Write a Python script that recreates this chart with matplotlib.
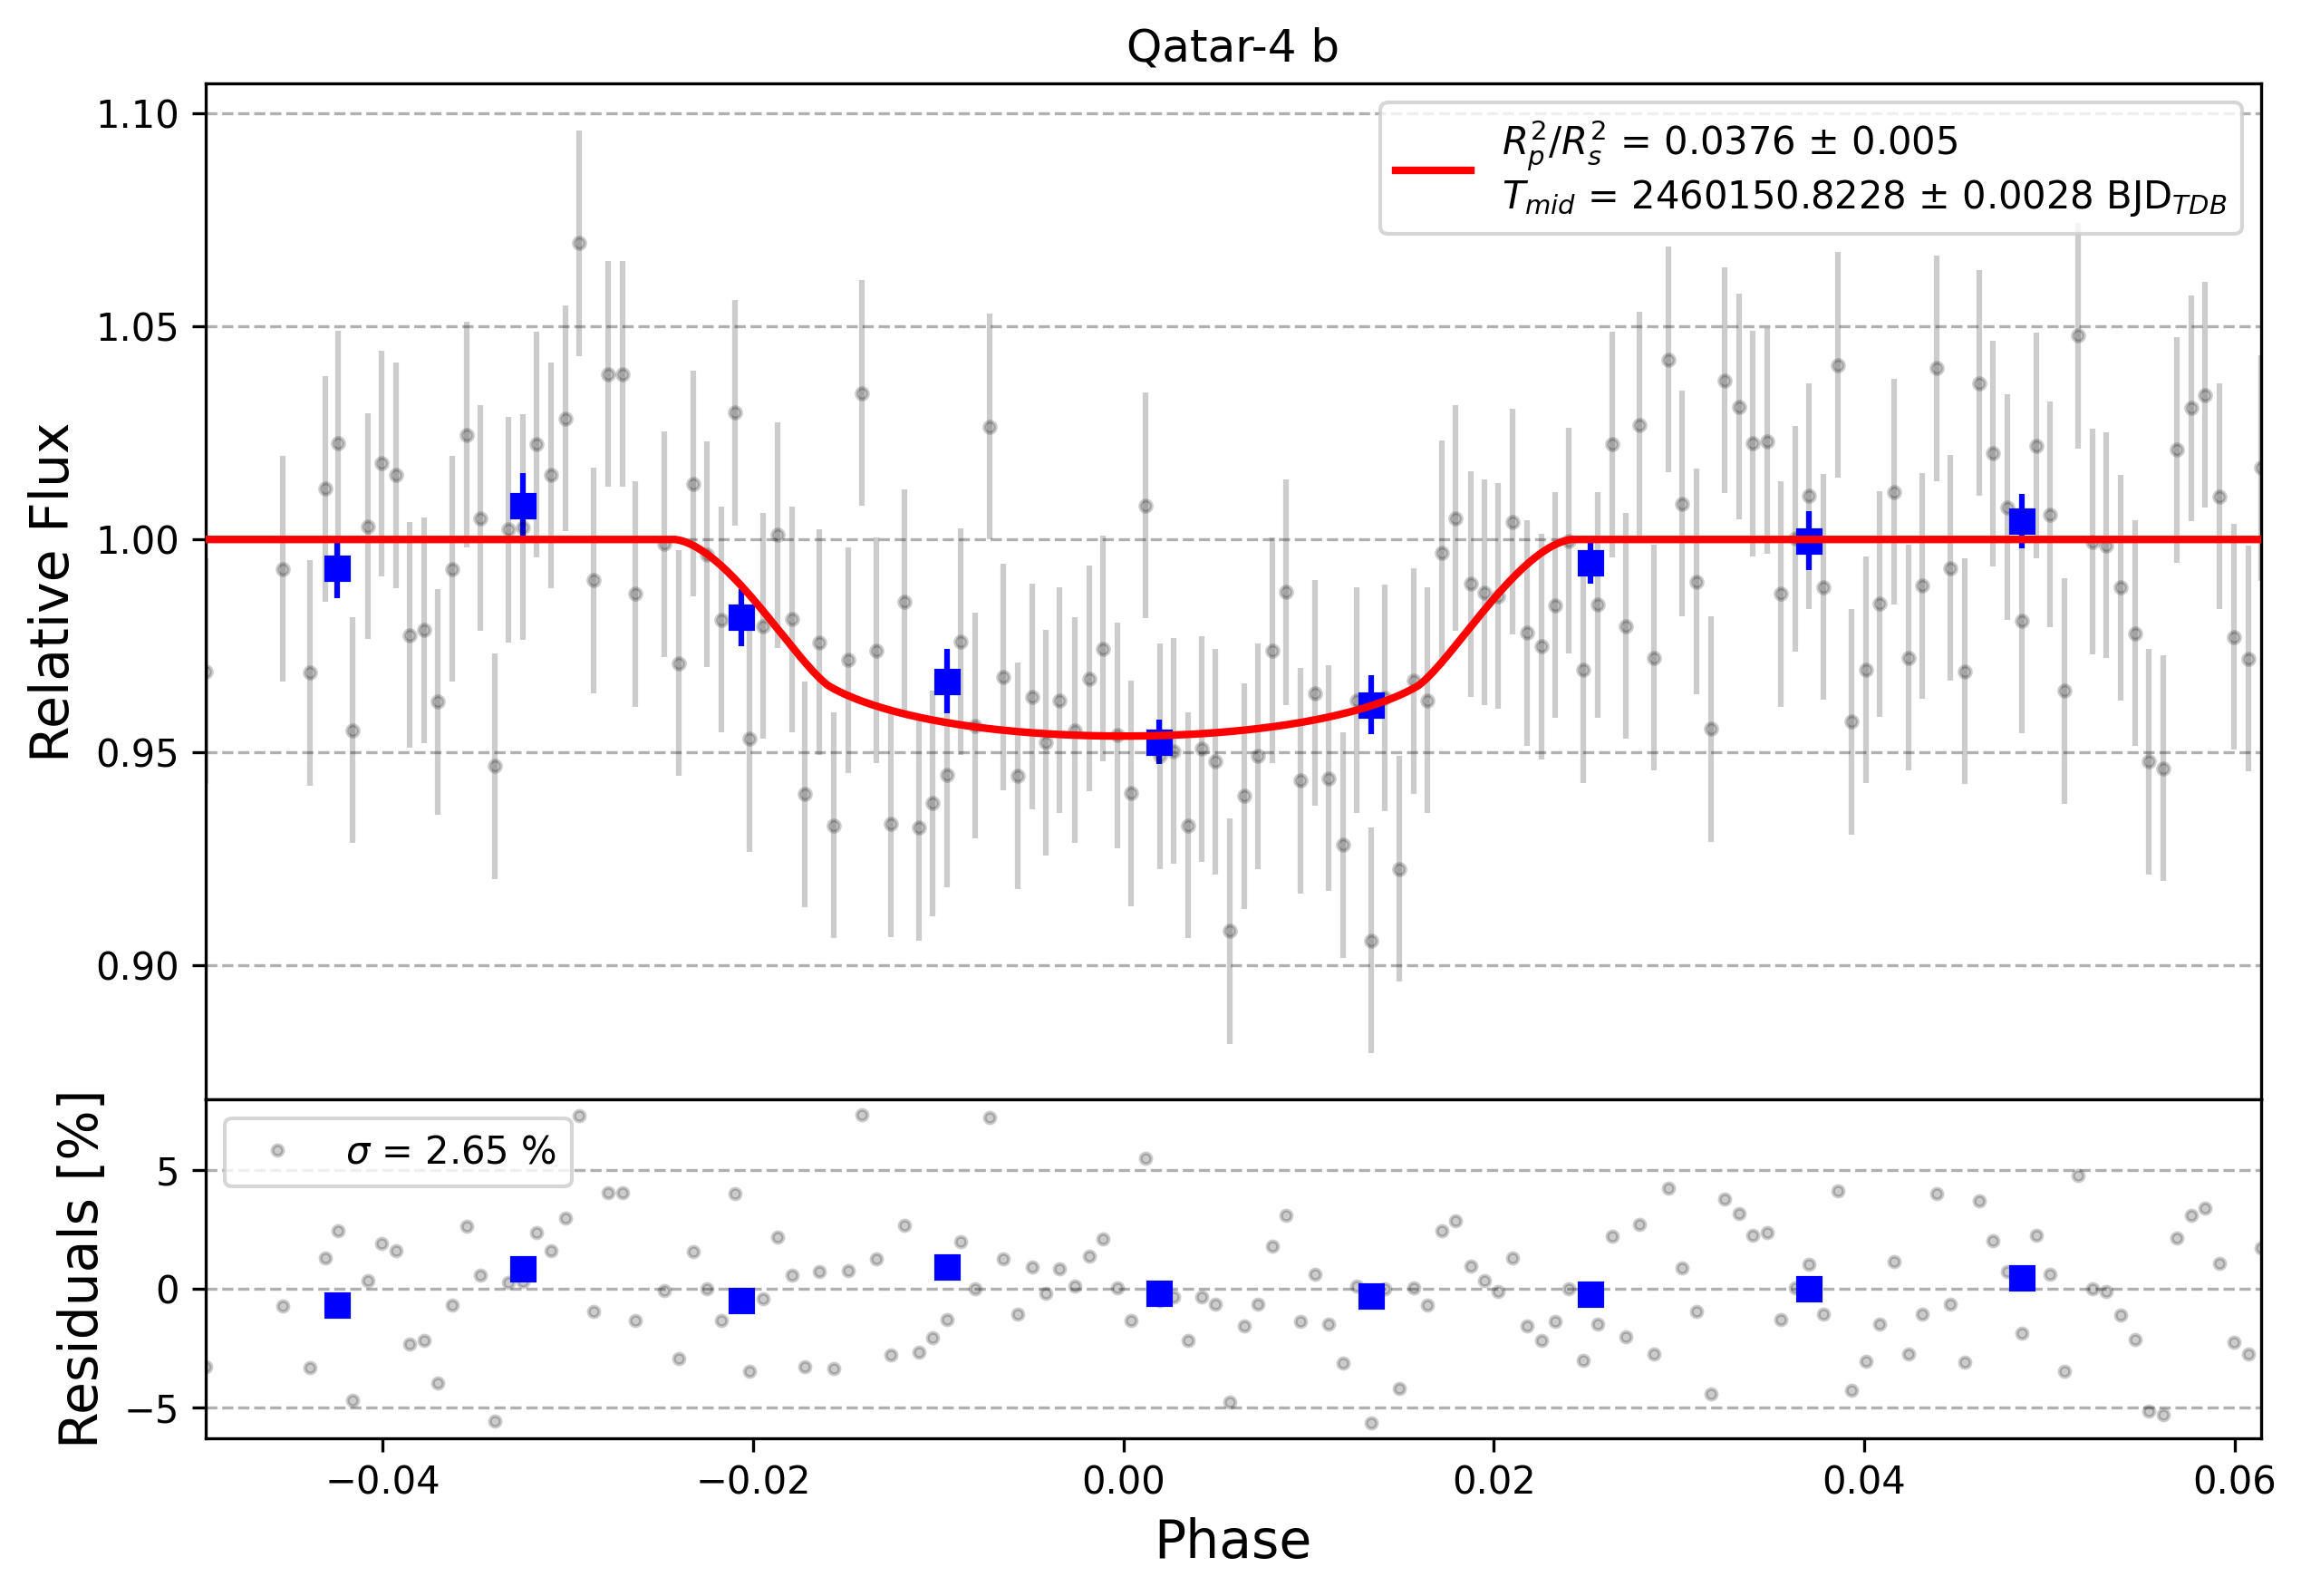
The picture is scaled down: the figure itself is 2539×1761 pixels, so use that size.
import numpy as np
import matplotlib
matplotlib.use('Agg')
import matplotlib.pyplot as plt

# phase-folded data
phase = [
    -0.04955, -0.04541, -0.04391, -0.04311, -0.04238, -0.04160, -0.04081, -0.04006, -0.03928, -0.03854,
    -0.03776, -0.03701, -0.03625, -0.03545, -0.03473, -0.03393, -0.03320, -0.03244, -0.03168, -0.03090,
    -0.03010, -0.02938, -0.02860, -0.02783, -0.02705, -0.02633, -0.02478, -0.02402, -0.02324, -0.02248,
    -0.02170, -0.02099, -0.02021, -0.01945, -0.01869, -0.01791, -0.01718, -0.01640, -0.01564, -0.01486,
    -0.01413, -0.01333, -0.01255, -0.01183, -0.01105, -0.01029, -0.00952, -0.00878, -0.00798, -0.00720,
    -0.00648, -0.00570, -0.00493, -0.00417, -0.00343, -0.00263, -0.00185, -0.00109, -0.00034, 0.00042,
    0.00120, 0.00196, 0.00274, 0.00350, 0.00423, 0.00499, 0.00574,
    0.00653, 0.00725, 0.00805, 0.00878, 0.00956, 0.01034, 0.01110, 0.01186, 0.01261, 0.01339,
    0.01413, 0.01491, 0.01569, 0.01642, 0.01722, 0.01796, 0.01876, 0.01948, 0.02026, 0.02103,
    0.02181, 0.02257, 0.02331, 0.02407, 0.02484, 0.02562, 0.02638, 0.02712, 0.02788, 0.02865,
    0.02943, 0.03019, 0.03097, 0.03173, 0.03247, 0.03327,
    0.03398, 0.03478, 0.03552, 0.03627, 0.03702, 0.03781, 0.03859, 0.03933, 0.04011, 0.04086,
    0.04163, 0.04239, 0.04315, 0.04394, 0.04468, 0.04546, 0.04621, 0.04698, 0.04773, 0.04850,
    0.04929, 0.05002, 0.05081, 0.05156, 0.05233, 0.05308, 0.05385, 0.05462, 0.05537, 0.05614,
    0.05691, 0.05766, 0.05841, 0.05920, 0.05999, 0.06074, 0.06142]

flux = [
    0.9690, 0.9931, 0.9687, 1.0119, 1.0225, 0.9552, 1.0031, 1.0179, 1.0151, 0.9775,
    0.9787, 0.9619, 0.9931, 1.0246, 1.0050, 0.9468, 1.0023, 1.0029, 1.0223, 1.0151,
    1.0284, 1.0696, 0.9904, 1.0388, 1.0388, 0.9872, 0.9989, 0.9709, 1.0131, 0.9965,
    0.9812, 1.0298, 0.9532, 0.9797, 1.0011, 0.9813, 0.9402, 0.9758, 0.9329, 0.9717,
    1.0344, 0.9739, 0.9332, 0.9853, 0.9323, 0.9381, 0.9448, 0.9760, 0.9563, 1.0265,
    0.9677, 0.9445, 0.9631, 0.9523, 0.9622, 0.9552, 0.9673, 0.9743, 0.9540, 0.9404,
    1.0080, 0.9491, 0.9503, 0.9329, 0.9508, 0.9479, 0.9081,
    0.9398, 0.9491, 0.9739, 0.9876, 0.9434, 0.9639, 0.9439, 0.9283, 0.9622, 0.9058,
    0.9628, 0.9226, 0.9668, 0.9622, 0.9968, 1.0050, 0.9896, 0.9875, 0.9867, 1.0041,
    0.9781, 0.9749, 0.9846, 0.9997, 0.9693, 0.9847, 1.0223, 0.9797, 1.0269, 0.9722,
    1.0422, 1.0084, 0.9901, 0.9555, 1.0373, 1.0312,
    1.0226, 1.0231, 0.9872, 1.0002, 1.0102, 0.9888, 1.0410, 0.9572, 0.9694, 0.9849,
    1.0112, 0.9722, 0.9891, 1.0402, 0.9933, 0.9690, 1.0367, 1.0202, 1.0076, 0.9809,
    1.0220, 1.0058, 0.9645, 1.0479, 0.9995, 0.9986, 0.9887, 0.9780, 0.9479, 0.9463,
    1.0211, 1.0309, 1.0339, 1.0101, 0.9771, 0.9720, 1.0168]

flux_err = 0.0265

# residuals in percent
resid = [
    -3.28, -0.73, -3.33, 1.29, 2.44, -4.71, 0.33, 1.90, 1.63, -2.35,
    -2.18, -3.96, -0.70, 2.63, 0.57, -5.57, 0.27, 0.31, 2.36, 1.60,
    2.98, 7.31, -0.97, 4.05, 4.05, -1.32, -0.06, -2.95, 1.56, 0.00,
    -1.32, 4.01, -3.49, -0.42, 2.17, 0.57, -3.28, 0.72, -3.37, 0.75,
    7.34, 1.25, -2.80, 2.67, -2.69, -2.06, -1.28, 1.98, 0.00, 7.23,
    1.25, -1.05, 0.91, -0.20, 0.83, 0.10, 1.38, 2.11, 0.03, -1.35,
    5.50, -0.50, -0.34, -2.16, -0.34, -0.66, -4.78,
    -1.58, -0.66, 1.79, 3.09, -1.39, 0.61, -1.49, -3.14, 0.10, -5.65,
    0.00, -4.21, 0.06, -0.70, 2.44, 2.86, 0.95, 0.34, -0.13, 1.29,
    -1.58, -2.16, -1.39, 0.00, -3.03, -1.49, 2.23, -2.04, 2.71, -2.77,
    4.25, 0.87, -0.97, -4.42, 3.78, 3.18,
    2.27, 2.36, -1.28, 0.04, 1.03, -1.07, 4.13, -4.27, -3.04, -1.49,
    1.15, -2.76, -1.05, 4.01, -0.66, -3.08, 3.70, 2.02, 0.74, -1.88,
    2.25, 0.61, -3.49, 4.78, 0.00, -0.13, -1.11, -2.15, -5.17, -5.33,
    2.13, 3.10, 3.40, 1.06, -2.26, -2.77, 1.71]

# binned points
bin_phase = [-0.04247, -0.03242, -0.02063, -0.00951, 0.00193, 0.01340, 0.02523, 0.03703, 0.04852]
bin_flux = [0.9933, 1.0080, 0.9817, 0.9667, 0.9524, 0.9612, 0.9945, 0.9997, 1.0043]
bin_err = [0.0070, 0.0076, 0.0067, 0.0076, 0.0052, 0.0069, 0.0048, 0.0069, 0.0063]
bin_resid = [-0.70, 0.83, -0.51, 0.91, -0.17, -0.32, -0.24, -0.01, 0.45]

# transit model parameters
rprs2 = 0.0376
a_rs = 7.70
impact = 0.2457
u1 = 0.52
u2 = 0.18


def transit_flux(ph):
    # quadratic limb darkened star, integrate over annuli
    p = np.sqrt(rprs2)
    cosi = impact / a_rs
    ang = 2 * np.pi * np.asarray(ph)
    z = a_rs * np.sqrt(np.sin(ang)**2 + (cosi * np.cos(ang))**2)
    n = 2000
    r = (np.arange(n) + 0.5) / n
    mu = np.sqrt(1 - r**2)
    inten = 1 - u1 * (1 - mu) - u2 * (1 - mu)**2
    c = (r[None, :]**2 + z[:, None]**2 - p**2) / (2 * r[None, :] * z[:, None])
    frac = np.arccos(np.clip(c, -1, 1)) / np.pi
    blocked = (inten * frac * r).sum(axis=1)
    total = (inten * r).sum()
    return 1 - blocked / total


fig = plt.figure(figsize=(2539 / 300, 1761 / 300))
gs = fig.add_gridspec(2, 1, height_ratios=[3, 1], hspace=0,
                      left=0.0894, right=0.9825, top=0.9475, bottom=0.099)
ax1 = fig.add_subplot(gs[0])
ax2 = fig.add_subplot(gs[1], sharex=ax1)

model_x = np.linspace(phase[0], phase[-1], 1000)
model_y = transit_flux(model_x)

label = (r'$R^{2}_{p}/R^{2}_{s}$ = 0.0376 ± 0.005' + '\n'
         + r'$T_{mid}$ = 2460150.8228 ± 0.0028 BJD$_{TDB}$')

ax1.errorbar(phase, flux, yerr=flux_err, fmt='.', color='k', alpha=0.2, markersize=6)
ax1.errorbar(bin_phase, bin_flux, yerr=bin_err, fmt='s', color='b', markersize=6)
ax1.plot(model_x, model_y, 'r-', lw=2, label=label, zorder=5)
ax1.set_title('Qatar-4 b', fontsize=12)
ax1.set_ylabel('Relative Flux', fontsize=14)
ax1.set_ylim(0.8685, 1.107)
ax1.grid(True, axis='y', ls='--')
ax1.legend(loc='upper right')
plt.setp(ax1.get_xticklabels(), visible=False)

ax2.plot(phase, resid, 'ko', alpha=0.2, markersize=2.8,
         label=r'$\sigma$ = 2.65 %')
ax2.plot(bin_phase, bin_resid, 'bs', markersize=6)
ax2.set_ylim(-6.3, 8.0)
ax2.grid(True, axis='y', ls='--')
ax2.legend(loc='upper left')
ax2.set_xlim(phase[0], phase[-1])
ax2.set_xlabel('Phase', fontsize=14)
ax2.set_ylabel('Residuals [%]', fontsize=14)

plt.savefig('out.png', dpi=300)
plt.close(fig)
